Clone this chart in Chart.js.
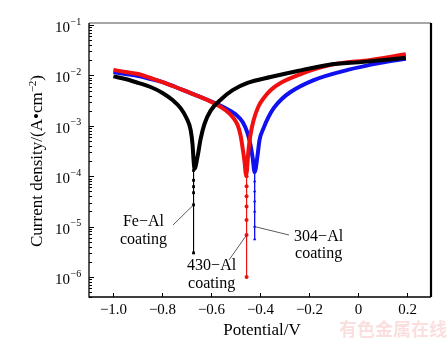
<!DOCTYPE html>
<html>
<head>
<meta charset="utf-8">
<script src="https://cdn.jsdelivr.net/npm/chart.js@4.4.1/dist/chart.umd.min.js"></script>
<style>
  html, body { margin: 0; padding: 0; background: #fff; }
  #wrap { width: 448px; height: 345px; }
</style>
</head>
<body>
<div id="wrap"><canvas id="tafel" width="448" height="345"></canvas></div>
<script>
// Potentiodynamic polarization curves of the three aluminized coatings
// E in V, current density in A/cm^2

// Fe-Al coating
const feAlE = [-1.0, -0.951, -0.898, -0.848, -0.799, -0.758, -0.725, -0.701, -0.684, -0.676, -0.672, -0.668,
               -0.656, -0.643, -0.627, -0.602, -0.561, -0.512, -0.451, -0.357, -0.246, -0.123, 0.025, 0.197];
const feAlI = [9.6e-3, 8.5e-3, 7.1e-3, 5.9e-3, 4.5e-3, 3.25e-3, 2.25e-3, 1.43e-3, 8.3e-4, 4.2e-4, 2.1e-4, 1.4e-4,
               2.4e-4, 5.5e-4, 1.1e-3, 2.0e-3, 3.3e-3, 5.1e-3, 7.1e-3, 9.3e-3, 1.23e-2, 1.62e-2, 1.86e-2, 2.24e-2];
const feAlTailE = [-0.672, -0.672, -0.672, -0.672, -0.672, -0.672];
const feAlTailI = [1.3e-4, 8.3e-5, 6.2e-5, 4.7e-5, 2.7e-5, 3.0e-6];

// 430-Al coating
const al430E = [-1.0, -0.951, -0.898, -0.848, -0.799, -0.746, -0.684, -0.623, -0.582, -0.541, -0.512, -0.492, -0.480, -0.471, -0.463, -0.457,
                -0.447, -0.439, -0.426, -0.406, -0.385, -0.357, -0.316, -0.221, -0.111, 0.053, 0.197];
const al430I = [1.29e-2, 1.17e-2, 1.07e-2, 8.9e-3, 7.4e-3, 5.9e-3, 4.45e-3, 3.4e-3, 2.7e-3, 2.04e-3, 1.5e-3, 1.05e-3, 6.6e-4, 3.6e-4, 1.9e-4, 1.05e-4,
                3.3e-4, 6.6e-4, 1.3e-3, 2.45e-3, 3.55e-3, 5.1e-3, 7.1e-3, 1.12e-2, 1.62e-2, 2.04e-2, 2.63e-2];
const al430TailE = [-0.455, -0.455, -0.455, -0.455, -0.455, -0.455, -0.455, -0.455];
const al430TailI = [1.3e-4, 1.0e-4, 6.3e-5, 4.0e-5, 2.5e-5, 1.35e-5, 6.8e-6, 1.0e-6];

// 304-Al coating
const al304E = [-1.0, -0.951, -0.898, -0.848, -0.799, -0.746, -0.684, -0.623, -0.582, -0.541, -0.500, -0.471, -0.451, -0.439, -0.430, -0.422,
                -0.410, -0.402, -0.385, -0.365, -0.344, -0.311, -0.275, -0.180, -0.041, 0.094, 0.197];
const al304I = [1.17e-2, 1.07e-2, 9.7e-3, 8.5e-3, 7.4e-3, 5.9e-3, 4.45e-3, 3.4e-3, 2.8e-3, 2.24e-3, 1.7e-3, 1.19e-3, 7.2e-4, 4.2e-4, 2.3e-4, 1.2e-4,
                2.6e-4, 5.2e-4, 9.1e-4, 1.5e-3, 2.24e-3, 3.4e-3, 4.7e-3, 8.1e-3, 1.29e-2, 1.78e-2, 2.14e-2];
const al304TailE = [-0.422, -0.422, -0.422, -0.422, -0.422, -0.422, -0.422];
const al304TailI = [1.26e-4, 7.9e-5, 5.0e-5, 3.2e-5, 2.0e-5, 1.0e-5, 5.6e-6];

// axis ticks
const potentialTicks = [-1.0, -0.8, -0.6, -0.4, -0.2, 0, 0.2];
const decadeTicks = [-6, -5, -4, -3, -2, -1];

const SERIF = '"Liberation Serif", "Times New Roman", serif';

function pairs(xs, ys) {
    return xs.map((x, i) => ({ x: x, y: ys[i] }));
}

function curve(xs, ys, color) {
    return {
        data: pairs(xs, ys),
        showLine: true,
        borderColor: color,
        borderWidth: 4,
        pointRadius: 0,
        cubicInterpolationMode: 'monotone'
    };
}

function tail(xs, ys, color, style) {
    return {
        data: pairs(xs, ys),
        showLine: true,
        borderColor: color,
        backgroundColor: color,
        borderWidth: 1,
        pointStyle: style,
        pointRadius: 2,
        pointBorderWidth: 0
    };
}

function fmtPotential(v) {
    if (v === 0) return '0';
    return (v < 0 ? '\u2212' : '') + Math.abs(v).toFixed(1);
}

// leader-line labels, anchored in data space
const labels = [
    { lines: ['Fe\u2212Al', 'coating'], tx: -0.877, ty: [222, 240], from: [173, 225], to: { x: -0.672, y: 2.7e-5 } },
    { lines: ['430\u2212Al', 'coating'], tx: -0.598, ty: [266, 284], from: [229, 260], to: { x: -0.455, y: 6.8e-6 } },
    { lines: ['304\u2212Al', 'coating'], tx: -0.16, ty: [237, 254], from: [289, 235], to: { x: -0.422, y: 1.0e-5 } }
];

const framePlugin = {
    id: 'frame',
    afterDraw(chart) {
        const ctx = chart.ctx;
        const a = chart.chartArea;
        const xs = chart.scales.x;
        const ys = chart.scales.y;
        ctx.save();

        // frame
        ctx.lineCap = 'butt';
        ctx.strokeStyle = '#888';
        ctx.lineWidth = 1.5;
        ctx.beginPath(); ctx.moveTo(a.left, a.top); ctx.lineTo(a.right, a.top); ctx.stroke();
        ctx.strokeStyle = '#000';
        ctx.lineWidth = 1.3;
        ctx.beginPath();
        ctx.moveTo(a.left, a.top); ctx.lineTo(a.left, a.bottom); ctx.lineTo(a.right, a.bottom);
        ctx.stroke();
        ctx.lineWidth = 2.2;
        ctx.beginPath(); ctx.moveTo(a.right, a.top); ctx.lineTo(a.right, a.bottom); ctx.stroke();

        // x ticks and labels
        ctx.lineWidth = 1;
        ctx.fillStyle = '#000';
        ctx.font = '15px ' + SERIF;
        ctx.textAlign = 'center';
        ctx.textBaseline = 'middle';
        potentialTicks.forEach(v => {
            const px = Math.round(xs.getPixelForValue(v)) + 0.5;
            ctx.beginPath(); ctx.moveTo(px, a.bottom); ctx.lineTo(px, a.bottom - 4); ctx.stroke();
            ctx.fillText(fmtPotential(v), px, a.bottom + 13);
        });

        // y ticks: decades plus minor 2..9
        for (let k = -7; k <= 0; k++) {
            for (let m = 1; m <= 9; m++) {
                const val = m * Math.pow(10, k);
                const py = ys.getPixelForValue(val);
                if (py < a.top || py > a.bottom) continue;
                const len = m === 1 ? 5 : 3;
                const y0 = Math.round(py) + 0.5;
                ctx.beginPath(); ctx.moveTo(a.left, y0); ctx.lineTo(a.left + len, y0); ctx.stroke();
            }
        }
        decadeTicks.forEach(k => {
            const py = ys.getPixelForValue(Math.pow(10, k));
            ctx.font = '15px ' + SERIF;
            ctx.textAlign = 'right';
            ctx.textBaseline = 'middle';
            ctx.fillText('10', 70, py + 3);
            ctx.font = '10px ' + SERIF;
            ctx.textAlign = 'left';
            ctx.fillText('\u2212' + Math.abs(k), 70.5, py - 3);
        });

        // axis titles
        ctx.font = '17px ' + SERIF;
        ctx.textAlign = 'center';
        ctx.textBaseline = 'middle';
        ctx.fillText('Potential/V', (a.left + a.right) / 2 + 2, 331);

        ctx.save();
        ctx.translate(38, 161);
        ctx.rotate(-Math.PI / 2);
        const main = 'Current density/(A\u2022cm';
        const sup = '\u22122';
        ctx.font = '17px ' + SERIF;
        const w1 = ctx.measureText(main).width;
        const w3 = ctx.measureText(')').width;
        ctx.font = '11px ' + SERIF;
        const w2 = ctx.measureText(sup).width;
        let x0 = -(w1 + w2 + w3) / 2;
        ctx.textAlign = 'left';
        ctx.font = '17px ' + SERIF;
        ctx.fillText(main, x0, 0);
        ctx.font = '11px ' + SERIF;
        ctx.fillText(sup, x0 + w1, -5);
        ctx.font = '17px ' + SERIF;
        ctx.fillText(')', x0 + w1 + w2, 0);
        ctx.restore();

        // coating labels with leader lines
        ctx.font = '16px ' + SERIF;
        ctx.textAlign = 'center';
        ctx.strokeStyle = '#333';
        ctx.lineWidth = 0.8;
        labels.forEach(l => {
            const cx = xs.getPixelForValue(l.tx);
            l.lines.forEach((t, i) => ctx.fillText(t, cx, l.ty[i]));
            ctx.beginPath();
            ctx.moveTo(l.from[0], l.from[1]);
            ctx.lineTo(xs.getPixelForValue(l.to.x), ys.getPixelForValue(l.to.y));
            ctx.stroke();
        });

        // site mark
        ctx.font = 'bold 18px "Noto Sans CJK SC", sans-serif';
        ctx.fillStyle = 'rgba(235, 90, 90, 0.2)';
        ctx.textAlign = 'left';
        ctx.fillText('有色金属在线', 339, 329);

        ctx.restore();
    }
};

new Chart(document.getElementById('tafel'), {
    type: 'scatter',
    data: {
        datasets: [
            curve(feAlE, feAlI, '#000000'),
            tail(feAlTailE, feAlTailI, '#000000', 'rect'),
            curve(al430E, al430I, '#f01010'),
            tail(al430TailE, al430TailI, '#f01010', 'circle'),
            curve(al304E, al304I, '#1010f0'),
            tail(al304TailE, al304TailI, '#1010f0', 'triangle')
        ]
    },
    options: {
        responsive: false,
        animation: false,
        layout: { padding: { left: 89, top: 23, right: 17, bottom: 48 } },
        plugins: {
            legend: { display: false },
            tooltip: { enabled: false }
        },
        scales: {
            x: { type: 'linear', min: -1.1, max: 0.3, display: false },
            y: { type: 'logarithmic', min: 4e-7, max: 0.11, display: false }
        }
    },
    plugins: [framePlugin]
});
</script>
</body>
</html>
